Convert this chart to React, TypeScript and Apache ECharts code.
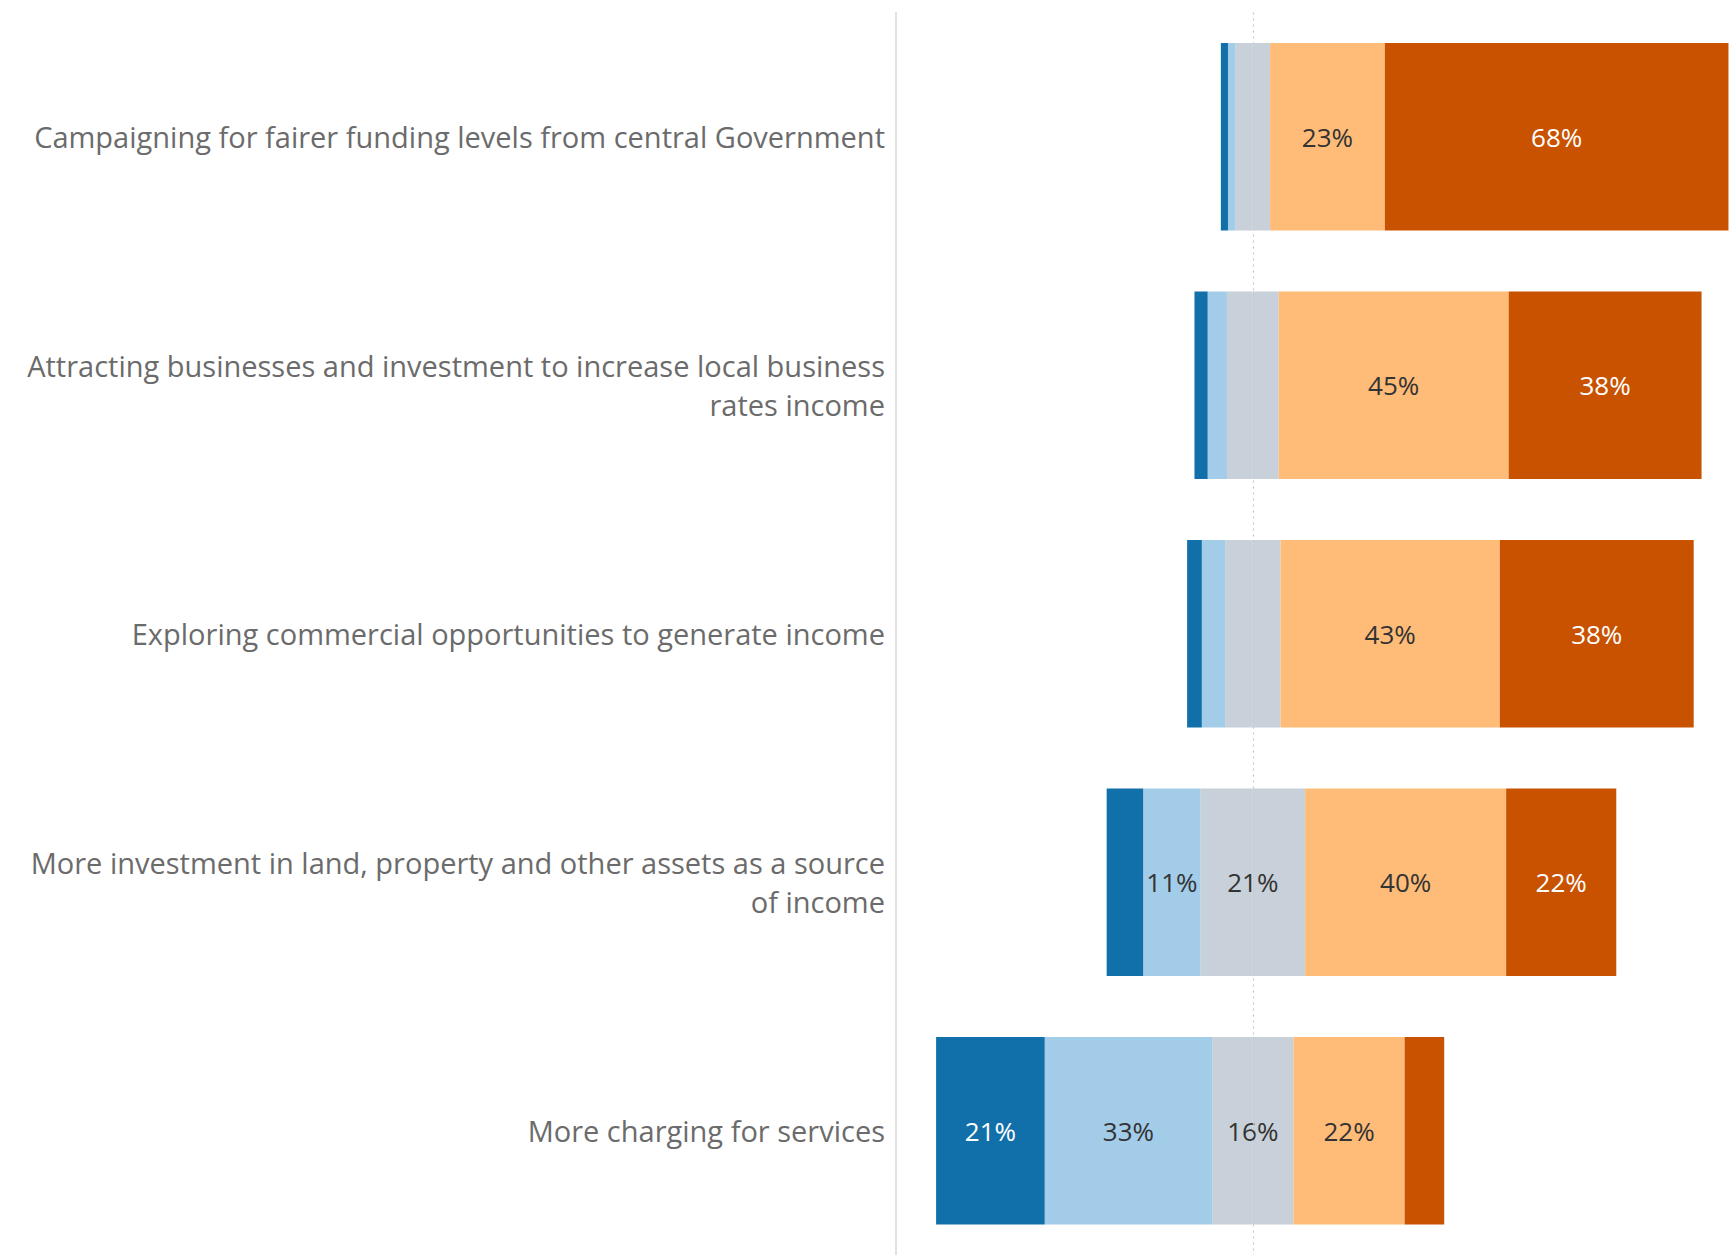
import React, { useEffect, useRef } from "react";
import * as echarts from "echarts";

const categories = [
  "Campaigning for fairer funding levels from central Government",
  "Attracting businesses and investment to increase local business\nrates income",
  "Exploring commercial opportunities to generate income",
  "More investment in land, property and other assets as a source\nof income",
  "More charging for services",
];
// shares in %, left to right
const stronglyAgainst = [1.4, 2.6, 2.9, 7.2, 21.4];
const against = [1.5, 3.8, 4.6, 11.3, 33.0];
const neutral = [6.8, 10.2, 10.9, 20.6, 16.0];
const favour = [22.6, 45.3, 43.2, 39.6, 21.9];
const stronglyFavour = [67.7, 38.0, 38.2, 21.7, 7.8];

const colors = ["#1170aa", "#a3cce9", "#c8d0d9", "#ffbc79", "#c85200"];
const FONT = "Open Sans";

const fmt = (v: number) => (Math.abs(v) >= 11 ? Math.round(Math.abs(v)) + "%" : "");

export default function App() {
  const ref = useRef<HTMLDivElement>(null);
  useEffect(() => {
    const chart = echarts.init(ref.current!, undefined, { renderer: "svg" });
    const lbl = (color: string) => ({
      show: true,
      position: "inside",
      color,
      fontFamily: FONT,
      fontSize: 26,
      formatter: (p: any) => fmt(p.value),
    });
    const base = { type: "bar", stack: "total", barWidth: "75.4%", emphasis: { disabled: true } };
    chart.setOption({
      animation: false,
      grid: { left: 896, right: 0, top: 12.5, bottom: 0, containLabel: false },
      xAxis: { type: "value", min: -70.3, max: 94.2, show: false },
      yAxis: {
        type: "category",
        data: categories,
        inverse: true,
        axisTick: { show: false },
        axisLine: { show: true, onZero: false, lineStyle: { color: "#d9d9d9", width: 1.5 } },
        axisLabel: {
          color: "#6b6b6b",
          fontFamily: FONT,
          fontSize: 29,
          lineHeight: 39,
          margin: 11,
          align: "right",
        },
      },
      series: [
        {
          ...base,
          name: "neutral-left",
          data: neutral.map((v) => -v / 2),
          itemStyle: { color: colors[2] },
          markLine: {
            silent: true,
            symbol: "none",
            label: { show: false },
            lineStyle: { color: "#c8c8c8", type: [2, 4], width: 1.2 },
            data: [{ xAxis: 0 }],
          },
        },
        { ...base, name: "against", data: against.map((v) => -v), itemStyle: { color: colors[1] }, label: lbl("#333") },
        { ...base, name: "strongly against", data: stronglyAgainst.map((v) => -v), itemStyle: { color: colors[0] }, label: lbl("#fff") },
        {
          ...base,
          name: "neutral",
          data: neutral.map((v) => v / 2),
          itemStyle: { color: colors[2] },
          label: {
            show: true,
            position: [0, "50%"],
            align: "center",
            verticalAlign: "middle",
            color: "#333",
            fontFamily: FONT,
            fontSize: 26,
            formatter: (p: any) => fmt(neutral[p.dataIndex]),
          },
        },
        { ...base, name: "favour", data: favour, itemStyle: { color: colors[3] }, label: lbl("#333") },
        { ...base, name: "strongly favour", data: stronglyFavour, itemStyle: { color: colors[4] }, label: lbl("#fff") },
      ],
    });
    return () => chart.dispose();
  }, []);
  return (
    <div
      ref={ref}
      style={{ position: "absolute", left: 0, top: 0, width: 1731, height: 1255, background: "#fff" }}
    />
  );
}
